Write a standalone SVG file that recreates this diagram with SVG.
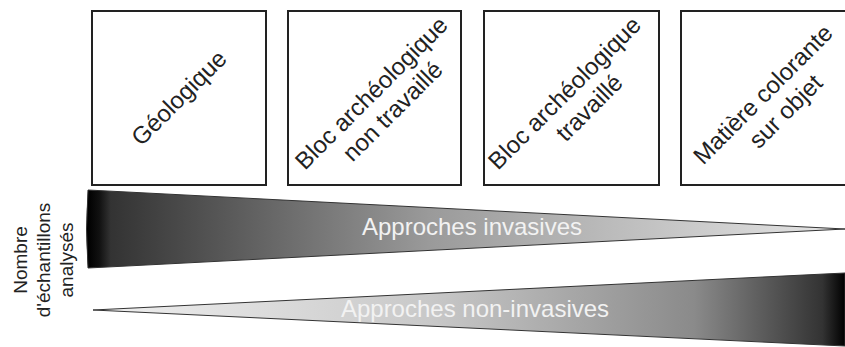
<svg xmlns="http://www.w3.org/2000/svg" width="845" height="347" viewBox="0 0 845 347">
<style>
.box{fill:#fff;stroke:#222;stroke-width:2}
.t{font-family:"Liberation Sans",Arial,sans-serif;font-size:24px;fill:#222;text-anchor:middle}
.w{font-family:"Liberation Sans",Arial,sans-serif;font-size:24px;fill:#f2f2f2;text-anchor:middle}
.l{font-family:"Liberation Sans",Arial,sans-serif;font-size:19px;fill:#222;text-anchor:middle}
.wedge{stroke:#333;stroke-width:1}
</style>
<defs>
<linearGradient id="g1" x1="88" y1="0" x2="845" y2="0" gradientUnits="userSpaceOnUse">
<stop offset="0" stop-color="#000"/>
<stop offset="0.015" stop-color="#111"/>
<stop offset="0.03" stop-color="#333"/>
<stop offset="0.45" stop-color="#9a9a9a"/>
<stop offset="1" stop-color="#e6e6e6"/>
</linearGradient>
<linearGradient id="g2" x1="93" y1="0" x2="845" y2="0" gradientUnits="userSpaceOnUse">
<stop offset="0" stop-color="#f0f0f0"/>
<stop offset="0.45" stop-color="#c8c8c8"/>
<stop offset="0.8" stop-color="#8a8a8a"/>
<stop offset="0.97" stop-color="#333"/>
<stop offset="1" stop-color="#000"/>
</linearGradient>
</defs>
<g id="geologique">
<rect class="box" x="92" y="11" width="174" height="174"/>
<text class="t" transform="translate(179,98) rotate(-45)" y="8">Géologique</text>
</g>
<g id="bloc-non-travaille">
<rect class="box" x="288" y="11" width="173" height="174"/>
<text class="t" transform="translate(375,98) rotate(-45)"><tspan x="1" y="2">Bloc archéologique</tspan><tspan x="3" y="30">non travaillé</tspan></text>
</g>
<g id="bloc-travaille">
<rect class="box" x="484" y="11" width="175" height="174"/>
<text class="t" transform="translate(571,98) rotate(-45)"><tspan x="-1" y="0">Bloc archéologique</tspan><tspan x="6" y="28">travaillé</tspan></text>
</g>
<g id="matiere">
<rect class="box" x="681" y="11" width="175" height="174"/>
<text class="t" transform="translate(768,98) rotate(-45)"><tspan x="-1" y="2">Matière colorante</tspan><tspan x="3" y="30">sur objet</tspan></text>
</g>
<g id="invasives">
<path class="wedge" fill="url(#g1)" d="M88,190 Q85,229 88,268 L845,229 Z"/>
<text class="w" x="472" y="235">Approches invasives</text>
</g>
<g id="non-invasives">
<path class="wedge" fill="url(#g2)" d="M93,310 L845,273 L845,346 Z"/>
<text class="w" x="475" y="317">Approches non-invasives</text>
</g>
<g id="axis-label">
<text class="l" transform="translate(50,260) rotate(-90)"><tspan x="0" y="-23">Nombre</tspan><tspan x="0" y="0">d'échantillons</tspan><tspan x="0" y="23">analysés</tspan></text>
</g>
</svg>
